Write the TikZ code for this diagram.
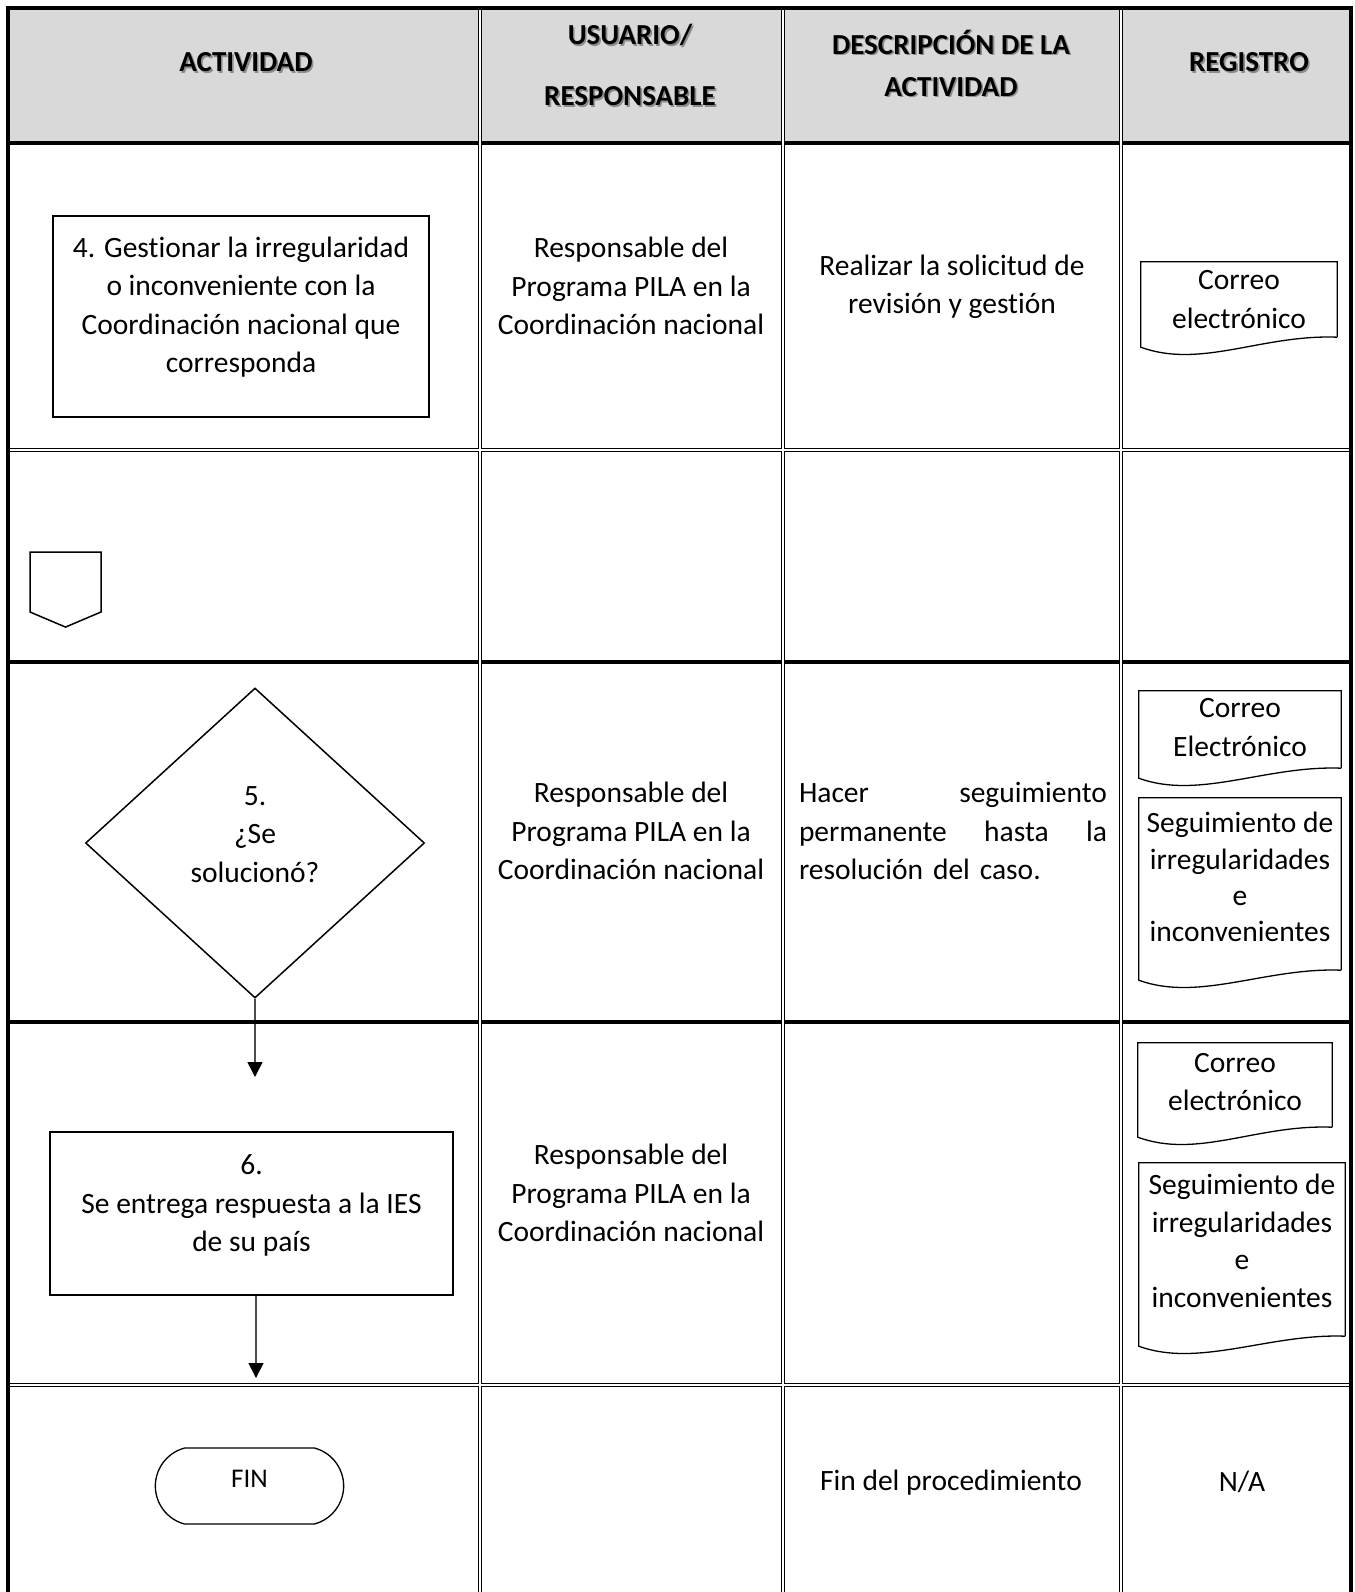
\documentclass[tikz,border=0pt]{standalone}
\usepackage{fontspec}
\setmainfont{Carlito}[Ligatures=NoCommon]
\usepackage{tikz}
\newcommand{\rulewidth}{4pt}
\newcommand{\bodysize}{\fontsize{29.5}{38.5}\selectfont}
\newcommand{\headsize}{\fontsize{29}{39}\selectfont}
\definecolor{headGray}{RGB}{217,217,217}
\definecolor{shadowGray}{RGB}{140,140,140}
\usetikzlibrary{arrows.meta,shapes.geometric,shapes.misc,shapes.symbols}
\pgfdeclarelayer{bg}
\pgfsetlayers{bg,main}
\newcommand{\shadowed}[1]{\makebox[0pt][l]{\hspace{1.6pt}\raisebox{-1.6pt}{\color{shadowGray}#1}}#1}
\newcommand{\shifted}[2]{\raisebox{#1}[\height][\depth]{\begin{tabular}{@{}c@{}}#2\end{tabular}}}
\newcommand{\docframe}[1]{%
  \path [docline] ([yshift=10pt]#1.south east) -- (#1.north east) -- (#1.north west) -- (#1.south west)
    .. controls +(60,22) and +(-75,-3) .. ([yshift=10pt]#1.south east);}
\tikzset{
  font=\bodysize,
  headtext/.style={font=\headsize\bfseries,align=center,inner sep=0},
  celltext/.style={align=center,inner sep=0},
  procbox/.style={draw,line width=1.5pt,shape=rectangle,inner sep=0},
  decision/.style={draw,line width=1.5pt,shape=diamond,inner sep=0},
  offpage/.style={draw,line width=1.5pt,shape=signal,signal to=south,signal from=nowhere,signal pointer angle=134,minimum width=71pt,minimum height=60pt,inner sep=0},
  terminal/.style={draw,line width=1.3pt,shape=rounded rectangle,rounded rectangle arc length=150,minimum width=195pt,minimum height=76pt,font=\fontsize{27}{33}\selectfont},
  regdoc/.style={shape=rectangle,inner sep=0},
  docline/.style={draw,line width=1.3pt},
  flowline/.style={draw=black!70,line width=1.5pt,-{Triangle[width=15pt,length=15pt,color=black]}},
  rule/.style={draw,line width=\rulewidth},
  dblrule/.style={draw,double,line width=1.7pt,double distance=1.5pt},
}
\begin{document}
\begin{tikzpicture}[x=1pt,y=-1pt]
  \useasboundingbox (0,0) rectangle (1354,1592);
  \begin{pgfonlayer}{bg}
    \path [fill=headGray] (8,8) rectangle (1351,143);
  \end{pgfonlayer}

  \node (hAct) [headtext] at (246,63) {\shadowed{ACTIVIDAD}};
  \node (hUser) [headtext] at (630,66) {\shadowed{USUARIO/}\\[22pt]\shadowed{RESPONSABLE}};
  \node (hDesc) [headtext] at (951,64) {\shadowed{DESCRIPCIÓN DE LA}\\[3pt]\shadowed{ACTIVIDAD}};
  \node (hReg) [headtext] at (1249,63) {\shadowed{REGISTRO}};

  \node (act4) [procbox,minimum width=376pt,minimum height=201pt] at (241,316.5) {\shifted{9pt}{4. Gestionar la irregularidad\\o inconveniente con la\\Coordinación nacional que\\corresponda}};
  \node (user4) [celltext] at (631,286) {Responsable del\\Programa PILA en la\\Coordinación nacional};
  \node (desc4) [celltext] at (952,287) {Realizar la solicitud de\\revisión y gestión};
  \node (reg4) [regdoc,minimum width=196pt,minimum height=85pt] at (1239,304.5) {\shifted{3pt}{Correo\\electrónico}};

  \node (conn) [offpage] at (65.5,582) {};

  \node (dec5) [decision,minimum width=339pt,minimum height=310pt] at (255,843) {\shifted{7pt}{5.\\¿Se\\solucionó?}};
  \node (user5) [celltext] at (631,831) {Responsable del\\Programa PILA en la\\Coordinación nacional};
  \node (desc5) [celltext,align=left,text width=308pt] at (953,831) {Hacer\hfill seguimiento\\permanente\hfill hasta\hfill la\\resolución del caso.};
  \node (reg5a) [regdoc,minimum width=202pt,minimum height=87pt] at (1240,734.5) {\shifted{5pt}{Correo\\Electrónico}};
  \node (reg5b) [regdoc,minimum width=202pt,minimum height=182pt] at (1240,889) {\renewcommand{\arraystretch}{0.94}\shifted{9pt}{Seguimiento de\\irregularidades\\e\\inconvenientes}};

  \coordinate (arrowend1) at (255,1077);
  \node (act6) [procbox,minimum width=403pt,minimum height=163pt] at (251.5,1213.5) {\shifted{8pt}{6.\\Se entrega respuesta a la IES\\de su país}};
  \coordinate (arrowend2) at (256,1378);
  \node (user6) [celltext] at (631,1193) {Responsable del\\Programa PILA en la\\Coordinación nacional};
  \node (reg6a) [regdoc,minimum width=194pt,minimum height=94pt] at (1235,1090) {\shifted{6pt}{Correo\\electrónico}};
  \node (reg6b) [regdoc,minimum width=206pt,minimum height=183pt] at (1242,1254.5) {\renewcommand{\arraystretch}{0.97}\shifted{11pt}{Seguimiento de\\irregularidades\\e\\inconvenientes}};

  \node (fin) [terminal] at (249.5,1486) {\shifted{5pt}{FIN}};
  \node (descFin) [celltext] at (951,1483) {Fin del procedimiento};
  \node (regFin) [celltext] at (1242,1482) {N/A};

  \docframe{reg4}
  \docframe{reg5a}
  \docframe{reg5b}
  \docframe{reg6a}
  \docframe{reg6b}

  \path [flowline] (dec5.south) -- (arrowend1);
  \path [flowline] (act6.south -| arrowend2) -- (arrowend2);

  \path [rule] (8,143) -- (1351,143) (8,662) -- (1351,662) (8,1022) -- (1351,1022);
  \path [dblrule] (480,8) -- (480,1600) (783,8) -- (783,1600) (1121,8) -- (1121,1600)
    (8,450) -- (1351,450) (8,1385) -- (1351,1385);
  \path [rule] (8,1600) -- (8,8) -- (1351,8) -- (1351,1600);
\end{tikzpicture}
\end{document}
